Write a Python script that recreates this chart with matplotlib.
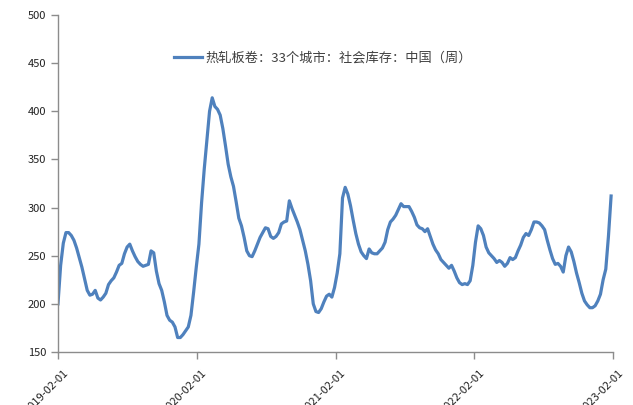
import pandas as pd
import matplotlib
matplotlib.use("Agg")
import matplotlib.pyplot as plt
import matplotlib.dates as mdates
import matplotlib.transforms as mtransforms

plt.rcParams["font.family"] = ["Noto Sans CJK SC", "DejaVu Sans"]

# Weekly hot-rolled coil social inventory, 33 cities
start_date = "2019-02-01"
end_date = "2023-02-01"
inventory = [
    200, 240, 263, 274, 274, 271, 266, 258, 248, 238,
    226, 214, 209, 210, 214, 206, 204, 207, 211, 220,
    224, 227, 233, 240, 242, 252, 259, 262, 255, 249,
    244, 241, 239, 240, 241, 255, 253, 234, 221, 214,
    202, 188, 183, 181, 176, 165, 165, 168, 172, 176,
    188, 212, 238, 262, 305, 340, 370, 400, 414, 405,
    402, 396, 382, 364, 345, 332, 322, 306, 289, 281,
    269, 255, 250, 249, 255, 262, 269, 274, 279, 278,
    270, 268, 270, 274, 283, 285, 286, 307, 299, 292,
    285, 277, 266, 255, 241, 224, 200, 192, 191, 195,
    202, 208, 210, 207, 217, 232, 252, 310, 321, 314,
    302, 287, 273, 262, 254, 250, 247, 257, 253, 252,
    252, 255, 258, 264, 277, 285, 288, 292, 298, 304,
    301, 301, 301, 296, 290, 282, 279, 278, 275, 278,
    270, 262, 256, 252, 246, 243, 240, 237, 240, 234,
    227, 222, 220, 221, 220, 224, 240, 264, 281, 278,
    271, 259, 253, 250, 247, 243, 245, 243, 239, 242,
    248, 246, 248, 255, 261, 269, 273, 271, 277, 285,
    285, 284, 281, 277, 266, 256, 247, 241, 242, 239,
    233, 250, 259, 254, 244, 232, 222, 211, 203, 199,
    196, 196, 198, 203, 210, 225, 236, 270, 312,
]
tick_dates = ["2019-02-01", "2020-02-01", "2021-02-01", "2022-02-01", "2023-02-01"]
y_ticks = [150, 200, 250, 300, 350, 400, 450, 500]
series_name = "热轧板卷：33个城市：社会库存：中国（周）"

dates = pd.date_range(start_date, periods=len(inventory), freq="7D")

fig = plt.figure(figsize=(6.33, 4.05), dpi=100)
ax = fig.add_axes([0.0916, 0.1309, 0.8768, 0.8321])

ax.plot(dates, inventory, color="#4F81BD", linewidth=2.3, label=series_name)

ax.set_xlim(pd.Timestamp(start_date), pd.Timestamp(end_date))
ax.set_ylim(150, 500)
ax.set_yticks(y_ticks)
ax.set_xticks(pd.to_datetime(tick_dates))
ax.xaxis.set_major_formatter(mdates.DateFormatter("%Y-%m-%d"))

for side in ["top", "right"]:
    ax.spines[side].set_visible(False)
for side in ["left", "bottom"]:
    ax.spines[side].set_color("#8c8c8c")
    ax.spines[side].set_linewidth(1.0)

ax.tick_params(axis="both", colors="#8c8c8c", length=5, width=1.0,
               labelsize=8, labelcolor="#222222")

# rotated date labels, nudged right/down like the original
shift = mtransforms.ScaledTranslation(5 / 100, -4 / 100, fig.dpi_scale_trans)
for lbl in ax.get_xticklabels():
    lbl.set_rotation(45)
    lbl.set_ha("right")
    lbl.set_va("top")
    lbl.set_rotation_mode("anchor")
    lbl.set_transform(lbl.get_transform() + shift)

fig.legend(
    loc="upper center",
    bbox_to_anchor=(323 / 633, 1 - 40 / 405),
    frameon=False,
    fontsize=9.5,
    handlelength=2.1,
    handletextpad=0.3,
    labelcolor="#404040",
)

fig.savefig("out.png", dpi=100)
